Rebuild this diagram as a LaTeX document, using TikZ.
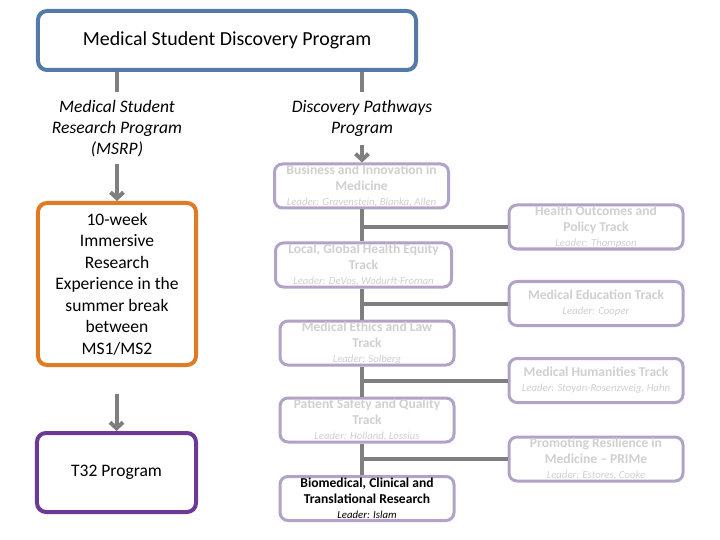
\documentclass[tikz,border=0pt]{standalone}
\usepackage{fontspec}
\setmainfont{Carlito}
\usepackage{xcolor}
\usetikzlibrary{arrows.meta}
\definecolor{progblue}{RGB}{84,122,167}
\definecolor{msrporange}{RGB}{224,123,36}
\definecolor{tpurple}{RGB}{108,58,150}
\definecolor{trackpurple}{RGB}{178,162,199}
\definecolor{fadegray}{RGB}{208,208,208}
\definecolor{linkgray}{RGB}{127,127,127}
\tikzset{>={Straight Barb[length=6bp,width=13bp]},
    link/.style={draw=linkgray, line width=4bp},
    prog/.style={rectangle, rounded corners=9bp, line width=4bp, fill=white,
        align=center, inner sep=0pt, font=\fontsize{17.6}{21.6}\selectfont},
    plain/.style={align=center, inner sep=0pt, font=\fontsize{17.6}{21.2}\selectfont\itshape},
    track/.style={rectangle, rounded corners=8bp, draw=trackpurple, line width=3bp,
        fill=white, align=center, inner sep=0pt, minimum width=174bp, minimum height=44bp,
        text=fadegray, font=\fontsize{13.6}{16}\selectfont\bfseries},
}
\newcommand{\leader}[1]{\\[-1bp]{\fontsize{10.8}{15}\selectfont\mdseries\itshape Leader: #1}}

\begin{document}
\begin{tikzpicture}[x=1bp,y=-1bp]
    \useasboundingbox (0,0) rectangle (720,540);
    % programs
    \node[prog, draw=progblue, minimum width=378bp, minimum height=59bp,
        font=\fontsize{20}{24}\selectfont] (mdsp) at (227,40.5) {Medical Student Discovery Program};
    \node[plain] (msrp) at (117,129) {Medical Student\\Research Program\\(MSRP)};
    \node[plain] (dpp) at (362,118.5) {Discovery Pathways\\Program};
    \node[prog, draw=msrporange, minimum width=158bp, minimum height=162bp] (immersive) at (117,284)
        {10-week\\Immersive\\Research\\Experience in the\\summer break\\between\\MS1/MS2};
    \node[prog, draw=tpurple, minimum width=159bp, minimum height=79bp] (t32) at (116.5,472.5) {T32 Program};
    % tracks
    \node[track] (biz) at (361.5,186) {Business and Innovation in\\Medicine\leader{Gravenstein, Blanka, Allen}};
    \node[track, minimum width=176bp] (local) at (363.5,265) {Local, Global Health Equity\\Track\leader{DeVos, Wodurft-Froman}};
    \node[track] (ethics) at (367,343) {Medical Ethics and Law\\Track\leader{Solberg}};
    \node[track] (safety) at (367,420) {Patient Safety and Quality\\Track\leader{Holland, Lossius}};
    \node[track, text=black] (biomed) at (367,498.5) {Biomedical, Clinical and\\Translational Research\leader{Islam}};
    \node[track] (health) at (596,227) {Health Outcomes and\\Policy Track\leader{Thompson}};
    \node[track] (edu) at (596,303.5) {Medical Education Track\leader{Cooper}};
    \node[track] (human) at (596,380.5) {Medical Humanities Track\leader{Stoyan-Rosenzweig, Hahn}};
    \node[track] (prime) at (596,459) {Promoting Resilience in\\Medicine -- PRIMe\leader{Estores, Cooke}};
    % connectors
    \draw[link] (mdsp.south -| msrp.north) -- ([yshift=8bp]msrp.north);
    \draw[link] (mdsp.south -| dpp.north) -- ([yshift=8bp]dpp.north);
    \draw[link, ->, shorten <=6bp] (msrp.south -| immersive.north) -- (immersive.north);
    \draw[link, ->, shorten <=8bp] (dpp.south) -- (dpp.south |- biz.north);
    \draw[link, ->, shorten <=27bp] (immersive.south -| t32.north) -- (t32.north);
    \foreach \a/\b in {biz/local,local/ethics,ethics/safety,safety/biomed}
        \draw[link] (dpp.south |- \a.south) -- (dpp.south |- \b.north);
    \foreach \c in {health,edu,human,prime}
        \draw[link] (dpp.south |- \c.west) -- (\c.west);
\end{tikzpicture}
\end{document}
